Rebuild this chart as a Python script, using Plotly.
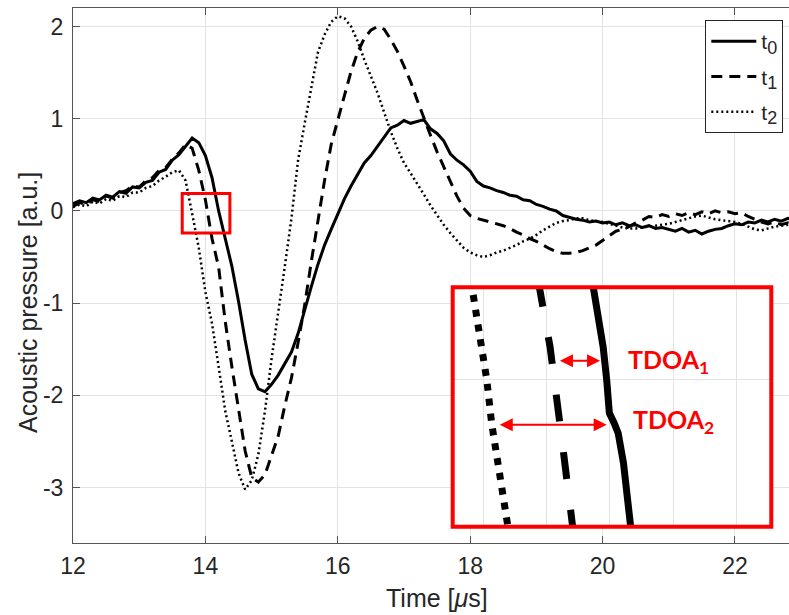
import numpy as np
import plotly.graph_objects as go

# ---- received waveforms at three instants (time in microseconds, pressure in a.u.) ----
time_us = np.round(np.arange(12.0, 22.95, 0.1), 2)

p_t0 = [
    0.08, 0.11, 0.09, 0.14, 0.12, 0.17, 0.15, 0.21, 0.19, 0.26,
    0.25, 0.31, 0.33, 0.42, 0.45, 0.55, 0.61, 0.70, 0.79, 0.74,
    0.60, 0.36, 0.00, -0.30, -0.60, -0.98, -1.40, -1.77, -1.93, -1.96,
    -1.88, -1.78, -1.66, -1.53, -1.33, -1.06, -0.82, -0.58, -0.37, -0.20,
    -0.03, 0.13, 0.27, 0.40, 0.52, 0.60, 0.70, 0.80, 0.90, 0.93,
    0.98, 0.95, 0.97, 0.99, 0.89, 0.84, 0.76, 0.62, 0.55, 0.50,
    0.43, 0.32, 0.27, 0.25, 0.22, 0.20, 0.17, 0.16, 0.12, 0.11,
    0.07, 0.05, 0.02, 0.00, -0.05, -0.07, -0.09, -0.10, -0.12, -0.11,
    -0.13, -0.12, -0.15, -0.13, -0.16, -0.15, -0.18, -0.16, -0.19, -0.18,
    -0.20, -0.22, -0.19, -0.23, -0.21, -0.25, -0.22, -0.20, -0.19, -0.16,
    -0.14, -0.15, -0.12, -0.13, -0.10, -0.12, -0.09, -0.11, -0.08, -0.10,
]

p_t1 = [
    0.05, 0.09, 0.07, 0.12, 0.10, 0.16, 0.14, 0.20, 0.22, 0.27,
    0.26, 0.33, 0.36, 0.44, 0.47, 0.56, 0.63, 0.72, 0.68, 0.44,
    0.12, -0.30, -0.61, -1.20, -1.69, -2.16, -2.60, -2.89, -2.94, -2.86,
    -2.64, -2.44, -2.11, -1.81, -1.43, -1.02, -0.55, -0.10, 0.33, 0.72,
    1.00, 1.25, 1.51, 1.72, 1.87, 1.96, 2.00, 1.97, 1.86, 1.73,
    1.57, 1.40, 1.20, 1.00, 0.82, 0.64, 0.48, 0.31, 0.16, 0.03,
    -0.05, -0.08, -0.10, -0.12, -0.14, -0.16, -0.19, -0.23, -0.26, -0.30,
    -0.33, -0.37, -0.41, -0.44, -0.46, -0.46, -0.45, -0.43, -0.40, -0.37,
    -0.32, -0.27, -0.22, -0.20, -0.17, -0.13, -0.10, -0.06, -0.07, -0.04,
    -0.06, -0.03, -0.05, -0.02, -0.04, -0.01, -0.03, 0.00, -0.02, -0.01,
    -0.03, -0.02, -0.06, -0.09, -0.12, -0.14, -0.12, -0.15, -0.13, -0.15,
]

p_t2 = [
    0.04, 0.07, 0.05, 0.10, 0.08, 0.13, 0.11, 0.16, 0.15, 0.20,
    0.20, 0.25, 0.27, 0.33, 0.37, 0.42, 0.44, 0.33, -0.03, -0.40,
    -0.88, -1.22, -1.69, -2.17, -2.50, -2.84, -3.02, -2.92, -2.64, -2.17,
    -1.60, -1.12, -0.60, -0.08, 0.55, 0.95, 1.32, 1.72, 1.91, 2.05,
    2.11, 2.09, 2.00, 1.84, 1.64, 1.46, 1.28, 1.07, 0.86, 0.68,
    0.52, 0.41, 0.30, 0.18, 0.06, -0.05, -0.15, -0.24, -0.32, -0.40,
    -0.45, -0.48, -0.50, -0.48, -0.45, -0.43, -0.40, -0.37, -0.33, -0.30,
    -0.26, -0.21, -0.17, -0.13, -0.11, -0.10, -0.08, -0.08, -0.10, -0.11,
    -0.12, -0.14, -0.16, -0.18, -0.19, -0.19, -0.18, -0.17, -0.16, -0.15,
    -0.14, -0.12, -0.10, -0.08, -0.06, -0.05, -0.07, -0.09, -0.10, -0.11,
    -0.12, -0.14, -0.17, -0.20, -0.21, -0.19, -0.17, -0.16, -0.15, -0.14,
]

series_names = [
    "t<sub><span style='font-size:18px'>0</span></sub>",
    "t<sub><span style='font-size:18px'>1</span></sub>",
    "t<sub><span style='font-size:18px'>2</span></sub>",
]

# ---- magnified traces around the first zero crossing ----
zoom_time_t0 = [13.965, 13.979, 13.990, 13.998, 14.004, 14.015, 14.024, 14.036, 14.053]
zoom_p_t0 = [0.203, 0.143, 0.083, 0.024, -0.036, -0.054, -0.072, -0.126, -0.246]
zoom_time_t1 = [13.843, 13.870, 13.895, 13.922]
zoom_p_t1 = [0.203, 0.083, -0.072, -0.246]
zoom_time_t2 = [13.691, 13.727, 13.738, 13.757, 13.776]
zoom_p_t2 = [0.203, 0.024, -0.054, -0.156, -0.246]

# region that is magnified
zoom_x = [13.65, 14.37]
zoom_y = [-0.24, 0.19]

# time-difference-of-arrival markers in the magnified view
tdoa_labels = ["<b>TDOA<sub>1</sub></b>", "<b>TDOA<sub>2</sub></b>"]
tdoa_level = [0.058, -0.057]
tdoa_from = [13.889, 13.753]
tdoa_to = [13.983, 13.998]

x_ticks = [12, 14, 16, 18, 20, 22]
y_ticks = [-3, -2, -1, 0, 1, 2]
y_tick_text = ["-3", "-2", "-1", "0", "1", "2"]

INK = "#262626"
AXIS = "#555555"
GRID = "#e3e3e3"
RED = "#ff0000"
FONT = "Liberation Sans"

fig = go.Figure()

main_styles = [
    dict(color="black", width=3),
    dict(color="black", width=3, dash="11px,7px"),
    dict(color="black", width=2.5, dash="2px,3px"),
]
for name, vals, style in zip(series_names, [p_t0, p_t1, p_t2], main_styles):
    fig.add_trace(go.Scatter(
        x=time_us, y=vals, mode="lines", name=name, line=style,
        legendgroup=name, xaxis="x", yaxis="y",
    ))

zoom_styles = [
    dict(color="black", width=7),
    dict(color="black", width=7, dash="27px,31px"),
    dict(color="black", width=7, dash="7px,8px"),
]
for xs, ys, style in zip([zoom_time_t0, zoom_time_t1, zoom_time_t2],
                         [zoom_p_t0, zoom_p_t1, zoom_p_t2], zoom_styles):
    fig.add_trace(go.Scatter(
        x=xs, y=ys, mode="lines", line=style, showlegend=False,
        hoverinfo="skip", xaxis="x2", yaxis="y2",
    ))

L, R, T, B = 73, 0, 8, 72
W, H = 789, 615
pw, ph = W - L - R, H - T - B

def px_x(px):
    return (px - L) / pw

def px_y(py):
    return (H - B - py) / ph

inset_dom_x = [px_x(452.7), px_x(771.3)]
inset_dom_y = [px_y(526.7), px_y(287.3)]

axis_common = dict(
    showline=True, linecolor=AXIS, linewidth=1,
    ticks="inside", ticklen=7, tickwidth=1, tickcolor=AXIS,
    showgrid=True, gridcolor=GRID, gridwidth=1, zeroline=False,
    tickfont=dict(family=FONT, size=23, color=INK),
)

fig.update_layout(
    width=W, height=H,
    margin=dict(l=L, r=R, t=T, b=B, pad=0),
    paper_bgcolor="white", plot_bgcolor="white",
    showlegend=True,
    xaxis=dict(range=[12, 22.816], tickvals=x_ticks, mirror="ticks",
               ticklabelstandoff=2, domain=[0, 1], **axis_common),
    yaxis=dict(range=[-3.6, 2.2], tickvals=y_ticks, ticktext=y_tick_text, mirror=False,
               ticklabelstandoff=4, domain=[0, 1], **axis_common),
    xaxis2=dict(domain=inset_dom_x, anchor="y2", range=zoom_x,
                showticklabels=False, ticks="", showline=False, zeroline=False,
                showgrid=True, gridcolor=GRID, tick0=13.7192, dtick=0.1431),
    yaxis2=dict(domain=inset_dom_y, anchor="x2", range=zoom_y,
                showticklabels=False, ticks="", showline=False, zeroline=False,
                showgrid=True, gridcolor=GRID, tick0=0.0253, dtick=0.5),
    legend=dict(
        x=px_x(783.3), xanchor="right", y=px_y(20), yanchor="top",
        bgcolor="white", bordercolor=INK, borderwidth=1,
        font=dict(family=FONT, size=21, color=INK),
        itemwidth=45, tracegroupgap=5,
    ),
)

# opaque backdrop of the magnified view
fig.add_shape(type="rect", xref="x2", yref="y2",
              x0=zoom_x[0], x1=zoom_x[1], y0=zoom_y[0], y1=zoom_y[1],
              fillcolor="white", line=dict(width=0), layer="below")
# frame of the magnified view
fig.add_shape(type="rect", xref="paper", yref="paper",
              x0=inset_dom_x[0], x1=inset_dom_x[1], y0=inset_dom_y[0], y1=inset_dom_y[1],
              line=dict(color=RED, width=4), fillcolor="rgba(0,0,0,0)", layer="above")
# marker of the magnified region on the main axes
fig.add_shape(type="rect", xref="x", yref="y",
              x0=zoom_x[0], x1=zoom_x[1], y0=zoom_y[0], y1=zoom_y[1],
              line=dict(color=RED, width=3), layer="above")

label_offset = [0.058, 0.056]
label_level = [0.058, -0.050]
for lab, lvl, lab_lvl, x0, x1, dx in zip(tdoa_labels, tdoa_level, label_level,
                                         tdoa_from, tdoa_to, label_offset):
    fig.add_annotation(
        x=x1, y=lvl, ax=x0, ay=lvl, xref="x2", yref="y2", axref="x2", ayref="y2",
        text="", showarrow=True, arrowhead=2, startarrowhead=2, arrowside="end+start",
        arrowsize=1.3, startarrowsize=1.3, arrowwidth=2, arrowcolor=RED,
        standoff=0, startstandoff=0,
    )
    fig.add_annotation(
        x=x1 + dx, y=lab_lvl, xref="x2", yref="y2", text=lab, showarrow=False,
        xanchor="left", yanchor="middle",
        font=dict(family="Lato", size=25, color=RED),
    )

# axis titles
fig.add_annotation(
    x=px_x(437), y=px_y(598), xref="paper", yref="paper",
    text="Time [<i>μ</i>s]", showarrow=False, xanchor="center", yanchor="middle",
    font=dict(family=FONT, size=25, color=INK),
)
fig.add_annotation(
    x=px_x(28), y=px_y(303), xref="paper", yref="paper",
    text="Acoustic pressure [a.u.]", showarrow=False, textangle=-90,
    xanchor="center", yanchor="middle",
    font=dict(family=FONT, size=25, color=INK),
)

fig.write_html("out.html")
